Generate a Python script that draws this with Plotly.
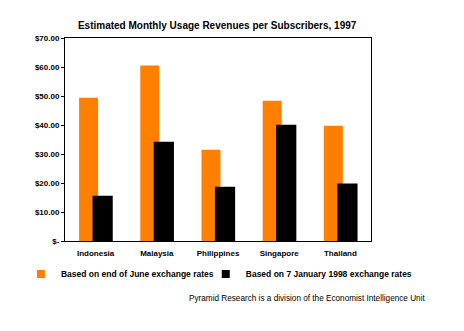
import plotly.graph_objects as go

countries = ["Indonesia", "Malaysia", "Philippines", "Singapore", "Thailand"]
june_rates = [49.4, 60.5, 31.5, 48.4, 39.7]
jan98_rates = [15.6, 34.2, 18.7, 40.1, 19.8]
tick_vals = [0, 10, 20, 30, 40, 50, 60, 70]
tick_text = ["$-", "$10.00", "$20.00", "$30.00", "$40.00", "$50.00", "$60.00", "$70.00"]
series_names = ["Based on end of June exchange rates", "Based on 7 January 1998 exchange rates"]
series_colors = ["#FF7F00", "#000000"]

fig = go.Figure()
fig.add_trace(go.Bar(
    x=countries, y=june_rates, name=series_names[0], showlegend=False,
    marker=dict(color=series_colors[0], line=dict(width=0)),
    offset=-0.27, width=0.31,
))
fig.add_trace(go.Bar(
    x=countries, y=jan98_rates, name=series_names[1], showlegend=False,
    marker=dict(color=series_colors[1], line=dict(width=0)),
    offset=-0.05, width=0.33,
))
# legend entries with small square swatches, one legend box each
for name, color, lg in zip(series_names, series_colors, ["legend", "legend2"]):
    fig.add_trace(go.Scatter(
        x=[None], y=[None], mode="markers", name=name, legend=lg,
        marker=dict(symbol="square", size=8, color=color),
    ))

legend_font = dict(family="Liberation Sans", size=8.5, color="black", weight="bold")

fig.update_layout(
    width=464, height=331,
    margin=dict(l=65, r=93, t=38, b=90, autoexpand=False),
    paper_bgcolor="white", plot_bgcolor="white",
    barmode="overlay",
    showlegend=True,
    title=dict(
        text="Estimated Monthly Usage Revenues per Subscribers, 1997",
        x=0.468, xanchor="center", y=0.922, yanchor="middle",
        font=dict(family="Liberation Sans", size=10, color="black", weight="bold"),
    ),
    font=dict(family="Liberation Sans", color="black"),
    legend=dict(
        orientation="h", x=-0.144, y=-0.163, xanchor="left", yanchor="middle",
        font=legend_font, itemwidth=30, borderwidth=0,
        bgcolor="rgba(0,0,0,0)",
    ),
    legend2=dict(
        orientation="h", x=0.46, y=-0.163, xanchor="left", yanchor="middle",
        font=legend_font, itemwidth=30, borderwidth=0,
        bgcolor="rgba(0,0,0,0)",
    ),
    xaxis=dict(
        showline=True, linecolor="black", linewidth=1, mirror=True,
        ticks="", showgrid=False, ticklabelstandoff=4,
        tickfont=dict(family="Liberation Sans", size=8, color="black", weight="bold"),
        range=[-0.5, 4.5],
    ),
    yaxis=dict(
        range=[0, 70], tickvals=tick_vals, ticktext=tick_text,
        showline=True, linecolor="black", linewidth=1, mirror=True,
        ticks="outside", ticklen=3, tickcolor="black",
        showgrid=False, zeroline=False,
        tickfont=dict(family="Liberation Sans", size=8, color="black", weight="bold"),
    ),
    annotations=[dict(
        text="Pyramid Research is a division of the Economist Intelligence Unit",
        xref="paper", yref="paper", x=1.183, y=-0.281, xanchor="right", yanchor="middle",
        showarrow=False, font=dict(family="Liberation Sans", size=8.2, color="black"),
    )],
)

fig.write_html("out.html")
